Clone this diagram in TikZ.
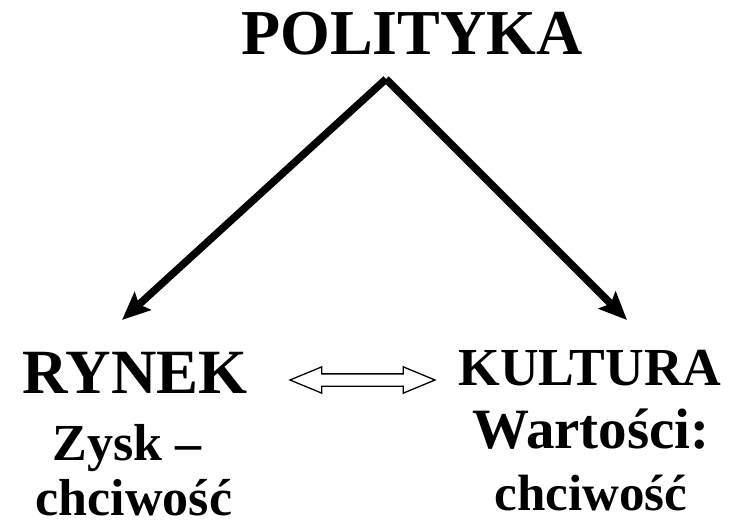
\documentclass[tikz,border=0pt]{standalone}
\usepackage{fontspec}
\setmainfont{Liberation Serif}
\usetikzlibrary{arrows.meta,shapes.arrows}
\tikzset{
  lbl/.style={anchor=base, inner sep=0pt, font=\bfseries},
  mainarrow/.style={line width=7.5pt, -{Stealth[length=28pt,width=24pt,inset=5pt]}},
}
\newcommand{\fs}[1]{\fontsize{#1}{#1}\selectfont}
\begin{document}
\begin{tikzpicture}[x=1pt,y=-1pt]
\useasboundingbox (0,0) rectangle (729,527);
\node[lbl] (polityka) at (412,55) {\fs{64}POLITYKA};
\node[lbl] (rynek) at (135,393) {\fs{63}RYNEK};
\node[lbl] (zysk) at (127,460) {\fs{52}Zysk –};
\node[lbl] (chc1) at (134,515) {\fs{52}chciwość};
\node[lbl] (kultura) at (590,385) {\fs{53.5}KULTURA};
\node[lbl] (wart) at (591,448) {\fs{57}Wartości:};
\node[lbl] (chc2) at (591,510) {\fs{51}chciwość};
\coordinate (apex) at (386,79);
\coordinate (ltip) at (122,320);
\coordinate (rtip) at (627,320);
\draw[mainarrow] (apex) -- (ltip);
\draw[mainarrow] (apex) -- (rtip);
\node[double arrow, draw, line width=1.3pt, fill=white, minimum width=25pt,
  minimum height=145pt, inner xsep=0pt, inner ysep=5.5pt, double arrow head extend=7pt,
  double arrow tip angle=45, anchor=center] (link) at (362.5,380) {};
\end{tikzpicture}
\end{document}
